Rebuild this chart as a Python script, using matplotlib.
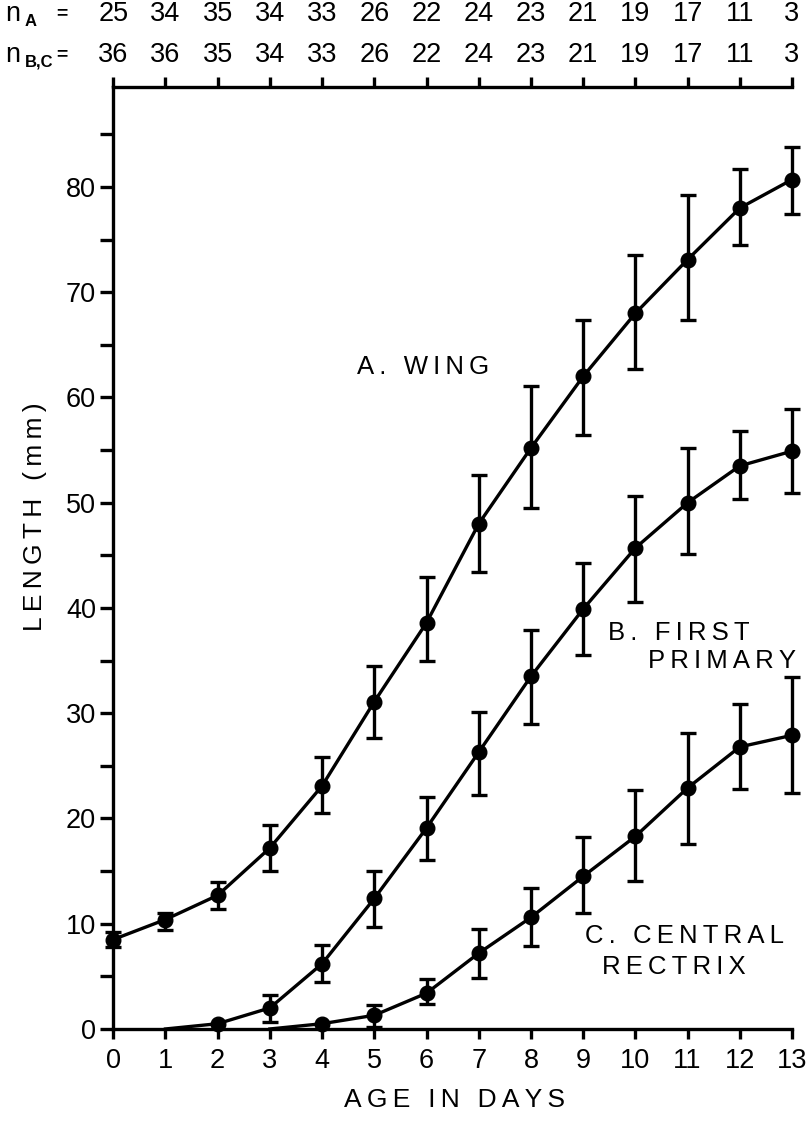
import numpy as np
import matplotlib
matplotlib.use("Agg")
import matplotlib.pyplot as plt
import matplotlib.transforms as mtransforms

plt.rcParams['font.family'] = ['Liberation Sans', 'DejaVu Sans']

# data
days = np.arange(14)

wing_mean = [8.5, 10.4, 12.7, 17.2, 23.1, 31.1, 38.6, 48.0, 55.2, 62.0, 68.0, 73.1, 78.0, 80.7]
wing_lo = [7.8, 9.4, 11.4, 15.0, 20.5, 27.6, 35.0, 43.4, 49.5, 56.4, 62.7, 67.4, 74.5, 77.4]
wing_hi = [9.2, 11.0, 14.0, 19.4, 25.8, 34.5, 42.9, 52.6, 61.1, 67.4, 73.5, 79.2, 81.7, 83.8]

prim_days = np.arange(1, 14)
prim_mean = [0.0, 0.5, 2.0, 6.2, 12.4, 19.1, 26.3, 33.5, 39.9, 45.7, 50.0, 53.5, 54.9]
prim_lo = [0.0, 0.5, 0.7, 4.5, 9.7, 16.1, 22.2, 29.0, 35.5, 40.6, 45.1, 50.4, 50.9]
prim_hi = [0.0, 0.5, 3.2, 8.0, 15.0, 22.0, 30.1, 37.9, 44.3, 50.6, 55.2, 56.8, 58.9]

rect_days = np.arange(3, 14)
rect_mean = [0.0, 0.5, 1.3, 3.4, 7.2, 10.6, 14.5, 18.3, 22.9, 26.8, 27.9]
rect_lo = [0.0, 0.5, 0.2, 2.4, 4.8, 7.9, 11.0, 14.1, 17.6, 22.8, 22.4]
rect_hi = [0.0, 0.5, 2.3, 4.7, 9.5, 13.4, 18.2, 22.7, 28.1, 30.9, 33.4]

n_a = [25, 34, 35, 34, 33, 26, 22, 24, 23, 21, 19, 17, 11, 3]
n_bc = [36, 36, 35, 34, 33, 26, 22, 24, 23, 21, 19, 17, 11, 3]


def spaced(s):
    # wide letter spacing like the original lettering
    return '\u2009'.join(s)


fig = plt.figure(figsize=(8.09, 11.21), dpi=100)
ax = fig.add_axes([0.1400, 0.0821, 0.8390, 0.8403])

lw = 2.4
for x, m, lo, hi, first in [(days, wing_mean, wing_lo, wing_hi, 0),
                            (prim_days, prim_mean, prim_lo, prim_hi, 1),
                            (rect_days, rect_mean, rect_lo, rect_hi, 1)]:
    x = np.asarray(x)
    m = np.asarray(m)
    lo = np.asarray(lo)
    hi = np.asarray(hi)
    ax.plot(x, m, color='black', lw=lw, clip_on=False, zorder=3)
    ax.plot(x[first:], m[first:], 'o', color='black', ms=10.5, clip_on=False, zorder=4)
    has_err = hi > lo
    ax.errorbar(x[has_err], m[has_err], yerr=[m[has_err] - lo[has_err], hi[has_err] - m[has_err]],
                fmt='none', ecolor='black', elinewidth=lw, capsize=5.5, capthick=lw,
                clip_on=False, zorder=3)

ax.set_xlim(0, 13)
ax.set_ylim(0, 89.5)

for side in ['left', 'bottom', 'top']:
    ax.spines[side].set_linewidth(lw)
ax.spines['right'].set_visible(False)

ax.set_xticks(days)
ax.set_yticks(np.arange(0, 81, 10))
ax.set_yticks(np.arange(5, 86, 10), minor=True)
ax.tick_params(axis='x', which='major', direction='out', length=7.5, width=lw,
               top=True, labeltop=False, labelsize=19.5, pad=6)
ax.tick_params(axis='y', which='both', direction='out', length=9.5, width=lw,
               right=False, labelsize=19.5, pad=3)

ax.text(4.67, 62.9, spaced('A. WING'), fontsize=18.5, va='center', ha='left')
ax.text(9.48, 37.6, spaced('B. FIRST'), fontsize=18.5, va='center', ha='left')
ax.text(10.25, 35.0, spaced('PRIMARY'), fontsize=18.5, va='center', ha='left')
ax.text(9.04, 8.8, spaced('C. CENTRAL'), fontsize=18.5, va='center', ha='left')
ax.text(9.36, 5.9, spaced('RECTRIX'), fontsize=18.5, va='center', ha='left')

fig.text(35 / 809, 1 - 517 / 1121, spaced('LENGTH (mm)'), rotation=90,
         fontsize=19, ha='center', va='center')
fig.text(455 / 809, 1 - 1100 / 1121, spaced('AGE IN DAYS'), fontsize=19,
         ha='center', va='center')

# sample sizes along the top
trans = mtransforms.blended_transform_factory(ax.transData, fig.transFigure)
row_y = [1 - 14 / 1121, 1 - 55 / 1121]
for d, a, bc in zip(days, n_a, n_bc):
    ax.text(d, row_y[0], str(a), transform=trans, fontsize=19.5, ha='center', va='center')
    ax.text(d, row_y[1], str(bc), transform=trans, fontsize=19.5, ha='center', va='center')

for y, sub in zip(row_y, ['A', 'B,C']):
    fig.text(5 / 809, y, 'n', fontsize=19.5, ha='left', va='center')
    fig.text(25 / 809, y - 7 / 1121, sub, fontsize=12, fontweight='bold',
             ha='left', va='center')
    fig.text(62 / 809, y, '=', fontsize=14, fontweight='bold', ha='center', va='center')

fig.savefig('out.png', dpi=100)
